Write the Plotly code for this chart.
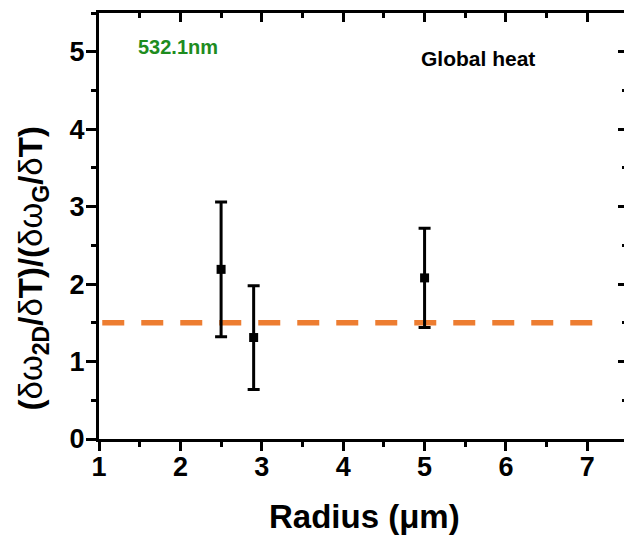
import plotly.graph_objects as go

# Measured ratio of 2D-band to G-band temperature coefficients vs. radius
radius = [2.5, 2.9, 5.0]
ratio = [2.19, 1.31, 2.08]
ratio_err = [0.87, 0.67, 0.64]

# Global-heating reference level
ref_x = [1.04, 7.2]
ref_y = [1.5, 1.5]

x_ticks = [1, 2, 3, 4, 5, 6, 7]
y_ticks = [0, 1, 2, 3, 4, 5]

FONT = "Liberation Sans, Arial, sans-serif"

fig = go.Figure()

fig.add_trace(go.Scatter(
    x=ref_x, y=ref_y, mode="lines",
    line=dict(color="#ED7D31", width=5.5, dash="22px,17px"),
    hoverinfo="skip", showlegend=False,
))

fig.add_trace(go.Scatter(
    x=radius, y=ratio, mode="markers",
    marker=dict(symbol="square", size=9, color="black"),
    error_y=dict(type="data", array=ratio_err, visible=True,
                 color="black", thickness=3, width=6),
    showlegend=False,
))

# invisible trace so the mirrored frame axes are drawn
fig.add_trace(go.Scatter(x=[None], y=[None], xaxis="x2", yaxis="y2",
                         showlegend=False, hoverinfo="skip"))

common_x = dict(range=[1, 7.45], showgrid=False, zeroline=False)
common_y = dict(range=[0, 5.5], showgrid=False, zeroline=False)

fig.update_layout(
    width=624, height=537,
    margin=dict(l=99, r=0, t=13, b=98),
    plot_bgcolor="white", paper_bgcolor="white",
    font=dict(family=FONT, color="black"),
    xaxis=dict(
        **common_x,
        tickmode="array", tickvals=x_ticks,
        ticktext=[f"<b>{v}</b>" for v in x_ticks],
        showline=True, linewidth=3, linecolor="black",
        ticks="outside", ticklen=9, tickwidth=2.5, tickcolor="black",
        minor=dict(dtick=0.5, ticks="outside", ticklen=5, tickwidth=2.5, tickcolor="black"),
        tickfont=dict(size=27, family=FONT, color="black"),
        ticklabelstandoff=-7,
    ),
    yaxis=dict(
        **common_y,
        tickmode="array", tickvals=y_ticks,
        ticktext=[f"<b>{v}</b>" for v in y_ticks],
        showline=True, linewidth=3, linecolor="black",
        ticks="outside", ticklen=10, tickwidth=2.5, tickcolor="black",
        minor=dict(dtick=0.5, ticks="outside", ticklen=5, tickwidth=2.5, tickcolor="black"),
        tickfont=dict(size=27, family=FONT, color="black"),
        ticklabelstandoff=-4,
    ),
    xaxis2=dict(
        **common_x, overlaying="x", side="top", anchor="y2",
        tickmode="array", tickvals=x_ticks,
        showline=True, linewidth=3, linecolor="black",
        ticks="inside", ticklen=9, tickwidth=2.5, tickcolor="black",
        minor=dict(dtick=0.5, ticks="inside", ticklen=5, tickwidth=2.5, tickcolor="black"),
        showticklabels=False,
    ),
    yaxis2=dict(
        **common_y, overlaying="y", side="right", anchor="x2",
        tickmode="array", tickvals=y_ticks,
        showline=False,
        ticks="inside", ticklen=6, tickwidth=2.5, tickcolor="black",
        minor=dict(dtick=0.5, ticks="inside", ticklen=2, tickwidth=2.5, tickcolor="black"),
        showticklabels=False,
    ),
)

fig.add_annotation(
    text="<b>532.1nm</b>", x=1.45, y=5.06, xref="x", yref="y",
    xanchor="left", yanchor="middle", showarrow=False,
    font=dict(size=20, color="#1E8C1E", family=FONT),
)
fig.add_annotation(
    text="<b>Global heat</b>", x=4.93, y=4.91, xref="x", yref="y",
    xanchor="left", yanchor="middle", showarrow=False,
    font=dict(size=21, color="black", family=FONT),
)
fig.add_annotation(
    text="<b>(</b>δω<sub><b>2D</b></sub><b>/</b>δ<b>T)/(</b>δω<sub><b>G</b></sub><b>/</b>δ<b>T)</b>",
    x=-0.126, y=0.40, xref="paper", yref="paper",
    xanchor="center", yanchor="middle", textangle=-90, showarrow=False,
    font=dict(size=33, color="black", family=FONT),
)
fig.add_annotation(
    text="<b>Radius (μm)</b>", x=0.505, y=-0.181, xref="paper", yref="paper",
    xanchor="center", yanchor="middle", showarrow=False,
    font=dict(size=33, color="black", family=FONT),
)

fig.write_html("out.html")
